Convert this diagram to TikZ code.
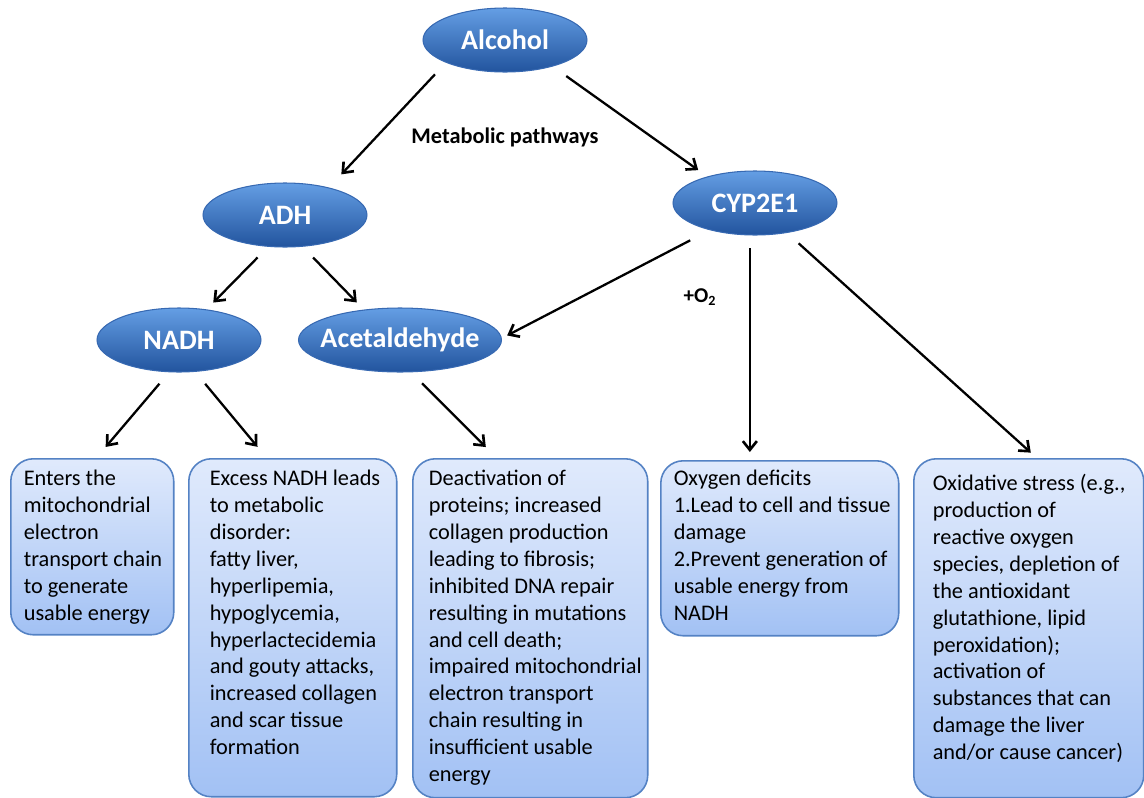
\documentclass[tikz,border=0pt]{standalone}
\usepackage{fontspec}
\setmainfont{Carlito}
\usetikzlibrary{arrows.meta,shapes.geometric}
\definecolor{pilltop}{RGB}{100,158,228}
\definecolor{pillbot}{RGB}{34,84,158}
\definecolor{pillline}{RGB}{55,105,178}
\definecolor{notetop}{RGB}{224,234,252}
\definecolor{notebot}{RGB}{162,193,244}
\definecolor{noteline}{RGB}{84,130,196}
\newcommand{\notetext}[5]{\parbox[t][#1][t]{#2}{\raggedright\leftskip=#3\relax\rule{0pt}{#4}#5}}

\begin{document}
\begin{tikzpicture}[x=0.02cm,y=-0.02cm,>={Straight Barb[length=5pt,width=8pt,line width=1.5pt]},
   pill/.style={ellipse,draw=pillline,line width=0.6pt,top color=pilltop,bottom color=pillbot,
     text=white,font=\fontsize{16}{19}\selectfont\bfseries,inner sep=0pt,
     minimum width=3.28cm,minimum height=1.28cm,
     execute at begin node={\hbox to 0pt\bgroup\hss},execute at end node={\hss\egroup}},
   note/.style={draw=noteline,line width=0.9pt,rounded corners=0.45cm,top color=notetop,
     bottom color=notebot,anchor=north west,inner sep=0pt,font=\fontsize{12.7}{15.3}\selectfont},
   link/.style={->,line width=1.3pt}]
\useasboundingbox (0,0) rectangle (1144,798);
% metabolites
\node[pill] (alc) at (505,40) {Alcohol};
\node[pill] (adh) at (285,215) {ADH};
\node[pill] (cyp) at (755,203) {CYP2E1};
\node[pill] (nadh) at (179,340) {NADH};
\node[pill,minimum width=4.06cm] (acet) at (400,340) {Acetaldehyde};
\node[font=\fontsize{12.7}{15.3}\selectfont\bfseries] (path) at (505,137) {Metabolic pathways};
\node[font=\fontsize{12}{14}\selectfont\bfseries] (oxy) at (700,297) {+O\textsubscript{2}};
% effects
\node[note] (b1) at (10,458) {\notetext{3.52cm}{3.26cm}{0.26cm}{0.54cm}{Enters the\\ mitochondrial\\ electron\\ transport chain\\ to generate\\ usable energy}};
\node[note] (b2) at (188,458) {\notetext{6.76cm}{4.16cm}{0.42cm}{0.54cm}{Excess NADH leads\\ to metabolic\\ disorder:\\ fatty liver,\\ hyperlipemia,\\ hypoglycemia,\\ hyperlactecidemia\\ and gouty attacks,\\ increased collagen\\ and scar tissue\\ formation}};
\node[note] (b3) at (412,458) {\notetext{6.78cm}{4.7cm}{0.32cm}{0.54cm}{Deactivation of\\ proteins; increased\\ collagen production\\ leading to fibrosis;\\ inhibited DNA repair\\ resulting in mutations\\ and cell death;\\ impaired mitochondrial\\ electron transport\\ chain resulting in\\ insufficient usable\\ energy}};
\node[note] (b4) at (660,460) {\notetext{3.5cm}{4.76cm}{0.26cm}{0.5cm}{Oxygen deficits\\ 1.Lead to cell and tissue\\ damage\\ 2.Prevent generation of\\ usable energy from\\ NADH}};
\node[note] (b5) at (913,458) {\notetext{6.78cm}{4.6cm}{0.38cm}{0.64cm}{Oxidative stress (e.g.,\\ production of\\ reactive oxygen\\ species, depletion of\\ the antioxidant\\ glutathione, lipid\\ peroxidation);\\ activation of\\ substances that can\\ damage the liver\\ and/or cause cancer)}};
% arrows
\draw[link,shorten <=0.32cm,shorten >=0.36cm] (alc.201) -- (adh.32);
\draw[link,shorten <=0.33cm,shorten >=0.22cm] (alc.331) -- (cyp.151);
\draw[link,shorten <=0.30cm,shorten >=0.19cm] (adh.242) -- (nadh.48);
\draw[link,shorten <=0.30cm,shorten >=0.20cm] (adh.299) -- (acet.140);
\draw[link,shorten <=0.44cm,shorten >=0.12cm] (cyp.211) -- (acet.1);
\draw[link,shorten <=0.26cm,shorten >=0.16cm] (cyp.261) -- (cyp.261 |- b4.north);
\draw[link,shorten <=0.31cm,shorten >=0.16cm] (cyp.317) -- ([xshift=0.16cm]b5.north);
\draw[link,shorten <=0.30cm,shorten >=0.29cm] (nadh.253) -- ([xshift=0.08cm]b1.north);
\draw[link,shorten <=0.31cm,shorten >=0.29cm] (nadh.297) -- ([xshift=-0.52cm]b2.north);
\draw[link,shorten <=0.31cm,shorten >=0.31cm] (acet.289) -- ([xshift=-0.67cm]b3.north);
\end{tikzpicture}
\end{document}
